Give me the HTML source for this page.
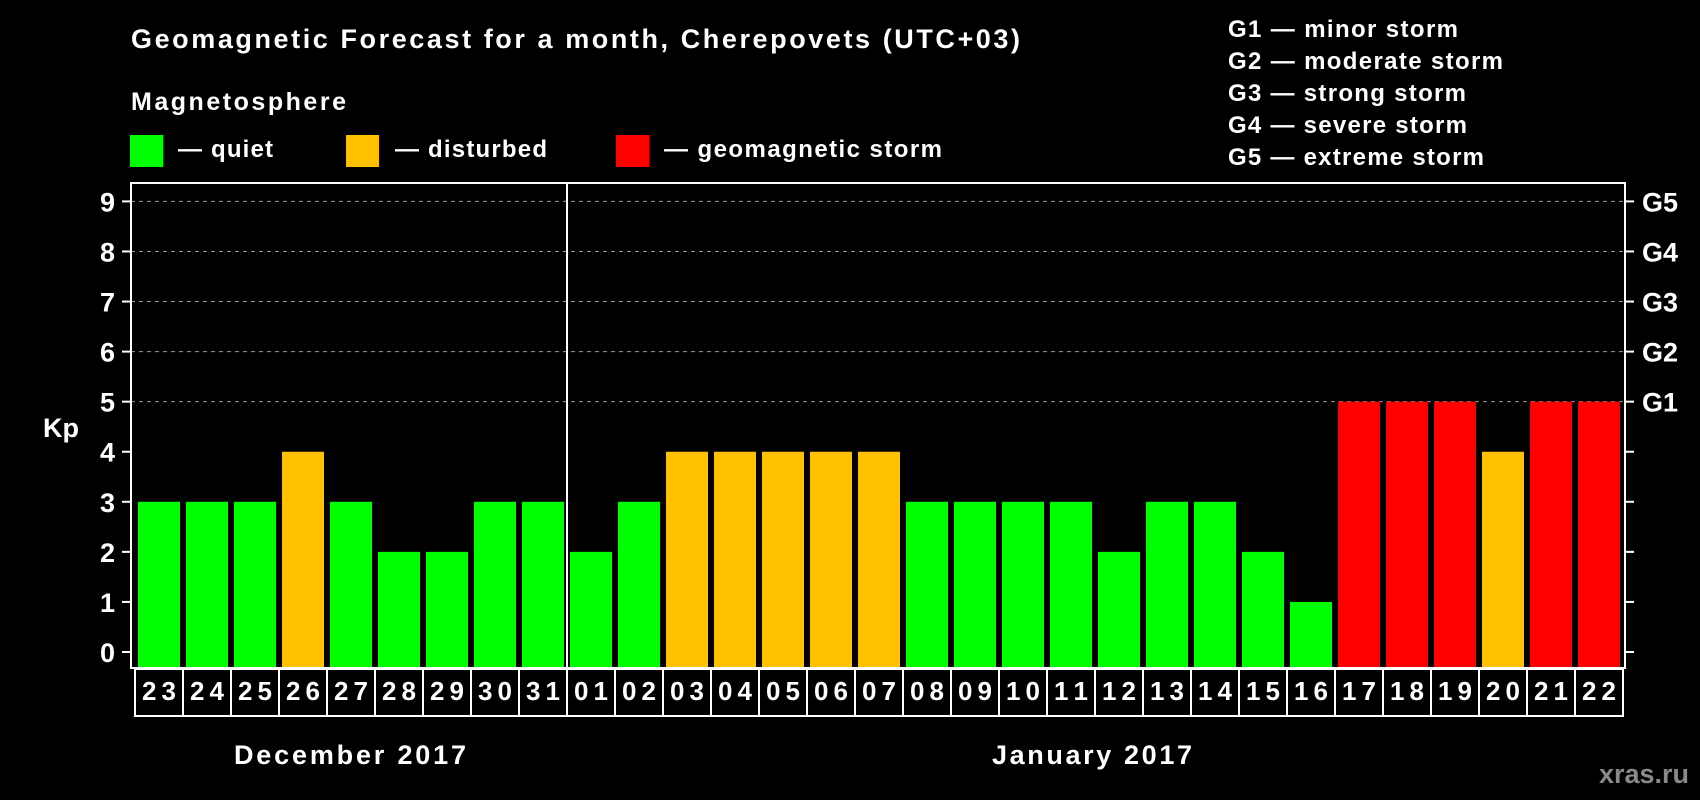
<!DOCTYPE html>
<html><head><meta charset="utf-8">
<style>
html,body{margin:0;padding:0;background:#000;}
svg{display:block;font-family:"Liberation Sans",Arial,sans-serif;font-weight:bold;}
</style></head>
<body>
<svg id="chart" width="1700" height="800" viewBox="0 0 1700 800" xmlns="http://www.w3.org/2000/svg">
<rect width="1700" height="800" fill="#000"/>
<text x="131" y="48" font-size="27" fill="#fff" textLength="889" lengthAdjust="spacing">Geomagnetic Forecast for a month, Cherepovets (UTC+03)</text>
<text x="131" y="110" font-size="25" fill="#fff" textLength="215" lengthAdjust="spacing">Magnetosphere</text>
<g>
<rect x="130" y="135" width="33" height="32" fill="#00ff00"/>
<text x="178" y="157" font-size="24" fill="#fff" textLength="95" lengthAdjust="spacing">— quiet</text></g>
<g>
<rect x="346" y="135" width="33" height="32" fill="#ffc000"/>
<text x="395" y="157" font-size="24" fill="#fff" textLength="152" lengthAdjust="spacing">— disturbed</text></g>
<g>
<rect x="616" y="135" width="33" height="32" fill="#ff0000"/>
<text x="664" y="157" font-size="24" fill="#fff" textLength="278" lengthAdjust="spacing">— geomagnetic storm</text></g>
<g font-size="24" fill="#fff">
<text x="1228" y="37" textLength="230" lengthAdjust="spacing">G1 — minor storm</text>
<text x="1228" y="69" textLength="275" lengthAdjust="spacing">G2 — moderate storm</text>
<text x="1228" y="101" textLength="238" lengthAdjust="spacing">G3 — strong storm</text>
<text x="1228" y="133" textLength="239" lengthAdjust="spacing">G4 — severe storm</text>
<text x="1228" y="165" textLength="256" lengthAdjust="spacing">G5 — extreme storm</text>
</g>
<text x="43" y="437" font-size="27" fill="#fff">Kp</text>
<g id="plot"></g>
<text x="234" y="764" font-size="27" fill="#fff" textLength="232" lengthAdjust="spacing">December 2017</text>
<text x="992" y="764" font-size="27" fill="#fff" textLength="200" lengthAdjust="spacing">January 2017</text>
<text x="1689" y="783" text-anchor="end" font-size="27" fill="#8a8a8a" textLength="90" lengthAdjust="spacing">xras.ru</text>
</svg>
<script>
const days = ["23","24","25","26","27","28","29","30","31","01","02","03","04","05","06","07","08","09","10","11","12","13","14","15","16","17","18","19","20","21","22"];
const kpValues = [3,3,3,4,3,2,2,3,3,2,3,4,4,4,4,4,3,3,3,3,2,3,3,2,1,5,5,5,4,5,5];
const levels = ["quiet","quiet","quiet","disturbed","quiet","quiet","quiet","quiet","quiet","quiet","quiet","disturbed","disturbed","disturbed","disturbed","disturbed","quiet","quiet","quiet","quiet","quiet","quiet","quiet","quiet","quiet","storm","storm","storm","disturbed","storm","storm"];
const yTicks = [0,1,2,3,4,5,6,7,8,9];
const gLabels = ["G1","G2","G3","G4","G5"];
const gLevels = [5,6,7,8,9];
const monthBreakIndex = 9;

const NS="http://www.w3.org/2000/svg";
const plot=document.getElementById('plot');
const L=131,R=1625,T=183,B=668;
const y0=652,unit=(652-201.4)/9;
const yS=v=>y0-v*unit;
const pitch=48,x0=138,bw=42;
const xS=i=>x0+i*pitch;
const colors={quiet:"#00ff00",disturbed:"#ffc000",storm:"#ff0000"};
function mk(tag,attrs){const e=document.createElementNS(NS,tag);for(const k in attrs)e.setAttribute(k,attrs[k]);plot.appendChild(e);return e;}

yTicks.forEach(v=>{
  if(v>=5){
    const g=mk('line',{x1:L,x2:R,y1:yS(v),y2:yS(v),stroke:'#999','stroke-width':1,'stroke-dasharray':'4,4'});
    
    
  }
  const t=mk('line',{x1:L-9,x2:L,y1:yS(v),y2:yS(v),stroke:'#fff','stroke-width':2});
  
  
  const t2=mk('line',{x1:R,x2:R+9,y1:yS(v),y2:yS(v),stroke:'#fff','stroke-width':2});
  
  
  const lb=mk('text',{x:115,y:yS(v)+10,'text-anchor':'end','font-size':27,fill:'#fff'});
  lb.textContent=v;
  
  
});
gLabels.forEach((g,i)=>{
  const t=mk('text',{x:1642,y:yS(gLevels[i])+10,'font-size':27,fill:'#fff'});
  t.textContent=g;
  
  
});
kpValues.forEach((v,i)=>{
  const r=mk('rect',{x:xS(i),y:yS(v),width:bw,height:B-yS(v),fill:colors[levels[i]]});
  
  
});
const fr=mk('rect',{x:L,y:T,width:R-L,height:B-T,fill:'none',stroke:'#fff','stroke-width':2});


const dv=mk('line',{x1:xS(monthBreakIndex)-3,x2:xS(monthBreakIndex)-3,y1:T,y2:B,stroke:'#fff','stroke-width':2});


days.forEach((d,i)=>{
  const bx=mk('rect',{x:xS(i)-3,y:669,width:pitch,height:47,fill:'none',stroke:'#fff','stroke-width':2});
  
  
  const t=mk('text',{x:xS(i)+bw/2-17,y:700,'font-size':26,fill:'#fff',textLength:34,lengthAdjust:'spacing'});
  t.textContent=d;
  
  
});
</script>
</body></html>
